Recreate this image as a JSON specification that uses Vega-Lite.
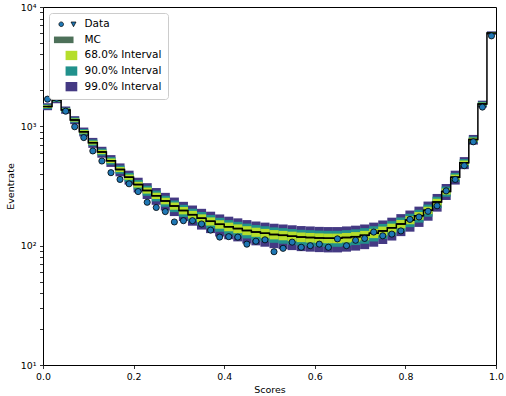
{
 "$schema": "https://vega.github.io/schema/vega-lite/v6.json",
 "width": 453,
 "height": 358,
 "autosize": {"type": "none"},
 "padding": {"left": 43, "top": 7, "right": 10, "bottom": 31},
 "background": "white",
 "config": {
  "font": "DejaVu Sans",
  "view": {"stroke": "black", "strokeWidth": 1},
  "axis": {"domain": false, "grid": false, "tickColor": "black", "tickWidth": 0.8, "tickSize": 3.5, "labelPadding": 3.5, "labelColor": "black", "labelFontSize": 9.4, "labelFont": "DejaVu Sans", "titleColor": "black", "titleFontSize": 9.5, "titleFontWeight": "normal", "titleFont": "DejaVu Sans", "labelFlush": false, "labelOverlap": false, "labelBound": false}
 },
 "data": {"values": [
  {"x0":0,"x1":0.02,"xc":0.01,"mc":1463,"d":1690,"l68":1425,"h68":1501,"l90":1400,"h90":1526,"l99":1365,"h99":1562},
  {"x0":0.02,"x1":0.04,"xc":0.03,"mc":1666,"d":1720,"l68":1625,"h68":1707,"l90":1599,"h90":1733,"l99":1561,"h99":1771},
  {"x0":0.04,"x1":0.06,"xc":0.05,"mc":1372,"d":1340,"l68":1335,"h68":1409,"l90":1311,"h90":1433,"l99":1277,"h99":1467},
  {"x0":0.06,"x1":0.08,"xc":0.07,"mc":1130,"d":992,"l68":1096,"h68":1164,"l90":1075,"h90":1185,"l99":1043,"h99":1217},
  {"x0":0.08,"x1":0.10,"xc":0.09,"mc":900,"d":805,"l68":870,"h68":930,"l90":851,"h90":949,"l99":823,"h99":977},
  {"x0":0.10,"x1":0.12,"xc":0.11,"mc":730,"d":622,"l68":703,"h68":757,"l90":686,"h90":774,"l99":660,"h99":800},
  {"x0":0.12,"x1":0.14,"xc":0.13,"mc":610,"d":512,"l68":585,"h68":635,"l90":569,"h90":651,"l99":546,"h99":674},
  {"x0":0.14,"x1":0.16,"xc":0.15,"mc":515,"d":409,"l68":492,"h68":538,"l90":478,"h90":552,"l99":457,"h99":574},
  {"x0":0.16,"x1":0.18,"xc":0.17,"mc":435,"d":359,"l68":414,"h68":456,"l90":401,"h90":469,"l99":381,"h99":489},
  {"x0":0.18,"x1":0.20,"xc":0.19,"mc":375,"d":330,"l68":356,"h68":394,"l90":343,"h90":407,"l99":325,"h99":425},
  {"x0":0.20,"x1":0.22,"xc":0.21,"mc":325,"d":284,"l68":307,"h68":343,"l90":295,"h90":355,"l99":279,"h99":371},
  {"x0":0.22,"x1":0.24,"xc":0.23,"mc":290,"d":231,"l68":273,"h68":307,"l90":262,"h90":318,"l99":246,"h99":334},
  {"x0":0.24,"x1":0.26,"xc":0.25,"mc":262,"d":209,"l68":246,"h68":278,"l90":235,"h90":289,"l99":220,"h99":304},
  {"x0":0.26,"x1":0.28,"xc":0.27,"mc":237,"d":193,"l68":222,"h68":252,"l90":212,"h90":262,"l99":197,"h99":277},
  {"x0":0.28,"x1":0.30,"xc":0.29,"mc":215,"d":158,"l68":200,"h68":230,"l90":191,"h90":239,"l99":177,"h99":253},
  {"x0":0.30,"x1":0.32,"xc":0.31,"mc":197,"d":162,"l68":183,"h68":211,"l90":174,"h90":220,"l99":161,"h99":233},
  {"x0":0.32,"x1":0.34,"xc":0.33,"mc":182,"d":162,"l68":168.5,"h68":195.5,"l90":160,"h90":204,"l99":147,"h99":217},
  {"x0":0.34,"x1":0.36,"xc":0.35,"mc":170,"d":152,"l68":157,"h68":183,"l90":148.6,"h90":191.4,"l99":136.4,"h99":203.6},
  {"x0":0.36,"x1":0.38,"xc":0.37,"mc":160,"d":135,"l68":147.4,"h68":172.6,"l90":139.2,"h90":180.8,"l99":127.4,"h99":192.6},
  {"x0":0.38,"x1":0.40,"xc":0.39,"mc":151,"d":118,"l68":138.7,"h68":163.3,"l90":130.8,"h90":171.2,"l99":119.3,"h99":182.7},
  {"x0":0.40,"x1":0.42,"xc":0.41,"mc":144,"d":119,"l68":132,"h68":156,"l90":124.3,"h90":163.7,"l99":113.1,"h99":174.9},
  {"x0":0.42,"x1":0.44,"xc":0.43,"mc":139,"d":118,"l68":127.2,"h68":150.8,"l90":119.6,"h90":158.4,"l99":108.6,"h99":169.4},
  {"x0":0.44,"x1":0.46,"xc":0.45,"mc":134,"d":103,"l68":122.4,"h68":145.6,"l90":115,"h90":153,"l99":104.2,"h99":163.8},
  {"x0":0.46,"x1":0.48,"xc":0.47,"mc":130,"d":109,"l68":118.6,"h68":141.4,"l90":111.2,"h90":148.8,"l99":100.6,"h99":159.4},
  {"x0":0.48,"x1":0.50,"xc":0.49,"mc":127,"d":112,"l68":115.7,"h68":138.3,"l90":108.5,"h90":145.5,"l99":98,"h99":156},
  {"x0":0.50,"x1":0.52,"xc":0.51,"mc":124,"d":89,"l68":112.9,"h68":135.1,"l90":105.7,"h90":142.3,"l99":95.3,"h99":152.7},
  {"x0":0.52,"x1":0.54,"xc":0.53,"mc":122,"d":95,"l68":111,"h68":133,"l90":103.8,"h90":140.2,"l99":93.5,"h99":150.5},
  {"x0":0.54,"x1":0.56,"xc":0.55,"mc":120,"d":107,"l68":109,"h68":131,"l90":102,"h90":138,"l99":91.8,"h99":148.2},
  {"x0":0.56,"x1":0.58,"xc":0.57,"mc":118,"d":97,"l68":107.1,"h68":128.9,"l90":100.1,"h90":135.9,"l99":90,"h99":146},
  {"x0":0.58,"x1":0.60,"xc":0.59,"mc":117,"d":100,"l68":106.2,"h68":127.8,"l90":99.2,"h90":134.8,"l99":89.1,"h99":144.9},
  {"x0":0.60,"x1":0.62,"xc":0.61,"mc":116,"d":103,"l68":105.2,"h68":126.8,"l90":98.3,"h90":133.7,"l99":88.3,"h99":143.7},
  {"x0":0.62,"x1":0.64,"xc":0.63,"mc":115.5,"d":97,"l68":104.8,"h68":126.2,"l90":97.8,"h90":133.2,"l99":87.8,"h99":143.2},
  {"x0":0.64,"x1":0.66,"xc":0.65,"mc":115.5,"d":114,"l68":104.8,"h68":126.2,"l90":97.8,"h90":133.2,"l99":87.8,"h99":143.2},
  {"x0":0.66,"x1":0.68,"xc":0.67,"mc":117,"d":100,"l68":106.2,"h68":127.8,"l90":99.2,"h90":134.8,"l99":89.1,"h99":144.9},
  {"x0":0.68,"x1":0.70,"xc":0.69,"mc":119,"d":111,"l68":108.1,"h68":129.9,"l90":101.1,"h90":136.9,"l99":90.9,"h99":147.1},
  {"x0":0.70,"x1":0.72,"xc":0.71,"mc":122,"d":115,"l68":111,"h68":133,"l90":103.8,"h90":140.2,"l99":93.5,"h99":150.5},
  {"x0":0.72,"x1":0.74,"xc":0.73,"mc":127,"d":130,"l68":115.7,"h68":138.3,"l90":108.5,"h90":145.5,"l99":98,"h99":156},
  {"x0":0.74,"x1":0.76,"xc":0.75,"mc":133,"d":121,"l68":121.5,"h68":144.5,"l90":114,"h90":152,"l99":103.3,"h99":162.7},
  {"x0":0.76,"x1":0.78,"xc":0.77,"mc":141,"d":125,"l68":129.1,"h68":152.9,"l90":121.5,"h90":160.5,"l99":110.4,"h99":171.6},
  {"x0":0.78,"x1":0.80,"xc":0.79,"mc":152,"d":133,"l68":139.7,"h68":164.3,"l90":131.7,"h90":172.3,"l99":120.2,"h99":183.8},
  {"x0":0.80,"x1":0.82,"xc":0.81,"mc":164,"d":166,"l68":151.2,"h68":176.8,"l90":142.9,"h90":185.1,"l99":131,"h99":197},
  {"x0":0.82,"x1":0.84,"xc":0.83,"mc":178,"d":174,"l68":164.7,"h68":191.3,"l90":156.1,"h90":199.9,"l99":143.6,"h99":212.4},
  {"x0":0.84,"x1":0.86,"xc":0.85,"mc":198,"d":194,"l68":184,"h68":212,"l90":174.9,"h90":221.1,"l99":161.8,"h99":234.2},
  {"x0":0.86,"x1":0.88,"xc":0.87,"mc":232,"d":216,"l68":216.8,"h68":247.2,"l90":206.9,"h90":257.1,"l99":192.8,"h99":271.2},
  {"x0":0.88,"x1":0.90,"xc":0.89,"mc":285,"d":288,"l68":268.1,"h68":301.9,"l90":257.2,"h90":312.8,"l99":241.5,"h99":328.5},
  {"x0":0.90,"x1":0.92,"xc":0.91,"mc":375,"d":359,"l68":356,"h68":394,"l90":343,"h90":407,"l99":325,"h99":425},
  {"x0":0.92,"x1":0.94,"xc":0.93,"mc":495,"d":468,"l68":472.8,"h68":517.2,"l90":458.4,"h90":531.6,"l99":437.7,"h99":552.3},
  {"x0":0.94,"x1":0.96,"xc":0.95,"mc":775,"d":742,"l68":747,"h68":803,"l90":729,"h90":821,"l99":703,"h99":847},
  {"x0":0.96,"x1":0.98,"xc":0.97,"mc":1540,"d":1450,"l68":1501,"h68":1579,"l90":1475,"h90":1605,"l99":1439,"h99":1641},
  {"x0":0.98,"x1":1.00,"xc":0.99,"mc":6050,"d":5730,"l68":5972,"h68":6128,"l90":5922,"h90":6178,"l99":5850,"h99":6250}
 ]},
 "layer": [
  {
   "mark": {"type": "rect", "strokeWidth": 0},
   "encoding": {
    "x": {"field": "x0", "type": "quantitative", "title": "Scores", "scale": {"domain": [0, 1], "nice": false, "zero": false},
          "axis": {"title": "Scores", "values": [0, 0.2, 0.4, 0.6, 0.8, 1.0], "format": ".1f", "titlePadding": 4}},
    "x2": {"field": "x1"},
    "y": {"field": "l99", "type": "quantitative", "title": "Eventrate", "scale": {"type": "log", "domain": [10, 10000], "nice": false},
          "axis": {"title": "Eventrate", "titlePadding": 5,
                   "values": [10,20,30,40,50,60,70,80,90,100,200,300,400,500,600,700,800,900,1000,2000,3000,4000,5000,6000,7000,8000,9000,10000],
                   "labelExpr": "datum.value === 10 ? '10¹' : datum.value === 100 ? '10²' : datum.value === 1000 ? '10³' : datum.value === 10000 ? '10⁴' : ''",
                   "encode": {"ticks": {"update": {"x2": {"signal": "indexof([10,100,1000,10000], datum.value) >= 0 ? -3.5 : -2"}}}}}},
    "y2": {"field": "h99"},
    "color": {"datum": "99.0% Interval",
              "scale": {"domain": ["Data", "MC", "68.0% Interval", "90.0% Interval", "99.0% Interval"], "range": ["#1f77b4", "#4d7059", "#b5de2b", "#21918c", "#443983"]},
              "legend": {"title": null, "orient": "top-left", "offset": 6, "padding": 6, "fillColor": "white", "strokeColor": "#cccccc", "cornerRadius": 3,
                         "symbolSize": 225, "rowPadding": 4.6, "labelOffset": 19, "labelFontSize": 10.5, "labelColor": "black", "labelFont": "DejaVu Sans",
                         "encode": {"symbols": {"update": {
                           "shape": {"signal": "datum.label === 'Data' ? 'M-0.18,0a0.31,0.31 0 1,0 0.62,0a0.31,0.31 0 1,0 -0.62,0ZM1.44,-0.3L2.1,-0.3L1.77,0.33Z' : datum.label === 'MC' ? 'M-0.84,-0.44H1.77V0.44H-0.84Z' : 'M0.71,-0.62H2.27V0.62H0.71Z'"},
                           "stroke": {"signal": "datum.label === 'Data' ? 'black' : 'transparent'"},
                           "strokeWidth": {"signal": "datum.label === 'Data' ? 0.7 : 0"},
                           "opacity": {"value": 1},
                           "fillOpacity": {"value": 1}
                         }}}}}
   }
  },
  {
   "mark": {"type": "rect", "strokeWidth": 0},
   "encoding": {
    "x": {"field": "x0", "type": "quantitative", "title": "Scores"},
    "x2": {"field": "x1"},
    "y": {"field": "l90", "type": "quantitative", "title": "Eventrate"},
    "y2": {"field": "h90"},
    "color": {"datum": "90.0% Interval"}
   }
  },
  {
   "mark": {"type": "rect", "strokeWidth": 0},
   "encoding": {
    "x": {"field": "x0", "type": "quantitative", "title": "Scores"},
    "x2": {"field": "x1"},
    "y": {"field": "l68", "type": "quantitative", "title": "Eventrate"},
    "y2": {"field": "h68"},
    "color": {"datum": "68.0% Interval"}
   }
  },
  {
   "mark": {"type": "rule", "strokeWidth": 1.5, "color": "black"},
   "encoding": {
    "x": {"field": "x0", "type": "quantitative", "title": "Scores"},
    "x2": {"field": "x1"},
    "y": {"field": "mc", "type": "quantitative", "title": "Eventrate"}
   }
  },
  {
   "mark": {"type": "line", "interpolate": "step", "strokeWidth": 1.5, "color": "black"},
   "encoding": {
    "x": {"field": "xc", "type": "quantitative", "title": "Scores"},
    "y": {"field": "mc", "type": "quantitative", "title": "Eventrate"}
   }
  },
  {
   "mark": {"type": "point", "shape": "circle", "filled": true, "size": 38, "opacity": 1, "stroke": "black", "strokeWidth": 0.8},
   "encoding": {
    "x": {"field": "xc", "type": "quantitative", "title": "Scores"},
    "y": {"field": "d", "type": "quantitative", "title": "Eventrate"},
    "color": {"datum": "Data"}
   }
  }
 ]
}
